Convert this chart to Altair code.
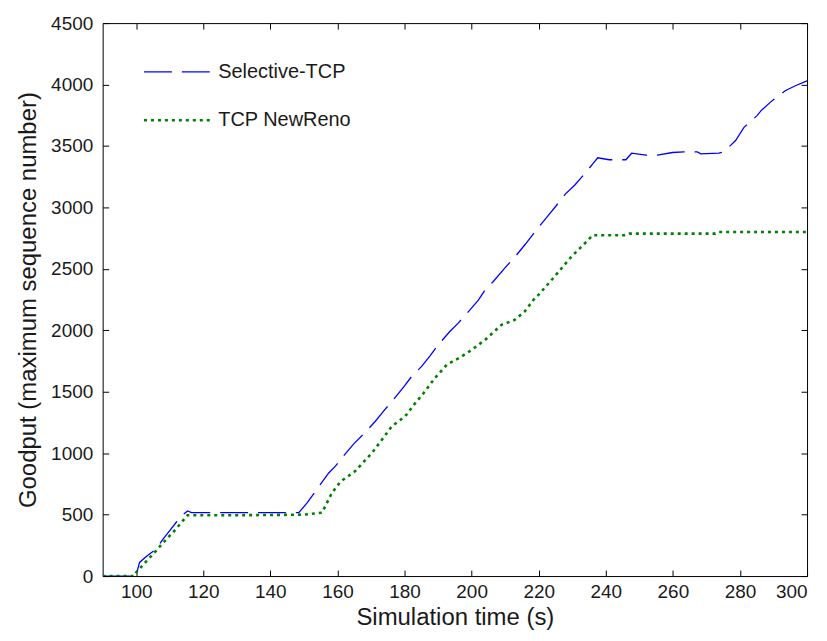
import altair as alt
import pandas as pd

series_names = ["Selective-TCP", "TCP NewReno"]
x_ticks = list(range(100, 301, 20))
y_ticks = list(range(0, 4501, 500))

sel_t = [90, 100, 100.5, 101, 103, 105.9, 108, 110, 112, 114, 115.3, 116.5, 120, 130, 140,
         148.5, 151, 153.5, 156, 157.4, 159.4, 162.4, 165, 168.3, 171.3, 174, 176.7, 179.7,
         182, 185.1, 187.6, 190, 193.5, 196, 199, 202, 204, 206.4, 210, 213, 216, 220, 223,
         225.7, 228, 230.7, 233.7, 236, 237.6, 241, 246, 247.7, 252, 255.4, 259.9, 263.3,
         267.3, 268.3, 273.7, 275.2, 278.7, 281.2, 285.1, 286.3, 289.6, 293.5, 296.5, 300]
sel_g = [0, 0, 60, 111, 160, 219, 300, 370, 440, 500, 530, 516, 516, 516, 516,
         516, 598, 692, 787, 839, 895, 997, 1080, 1170, 1260, 1350, 1436, 1538,
         1620, 1706, 1792, 1880, 1990, 2058, 2150, 2246, 2328, 2395, 2510, 2600, 2700, 2840, 2940,
         3030, 3110, 3180, 3274, 3350, 3404, 3388, 3388, 3441, 3425, 3425, 3447, 3452,
         3452, 3436, 3441, 3452, 3544, 3652, 3747, 3788, 3869, 3950, 3990, 4030]

reno_t = [90, 99.5, 100, 103, 105.9, 108, 110.9, 113, 115.3, 120, 130, 140, 150, 155.4,
          158.4, 161, 165.3, 170.3, 173, 176.2, 180.2, 183, 186.1, 189, 192.6, 197, 200,
          204, 208.9, 212.8, 215.8, 218.8, 220, 224.5, 229.7, 233.7, 236.1, 245.5, 247,
          272.7, 273.7, 300]
reno_g = [0, 0, 30, 120, 205, 270, 354, 420, 495, 495, 495, 497, 500, 516,
          679, 770, 854, 1003, 1100, 1219, 1300, 1400, 1503, 1610, 1719, 1787, 1840,
          1922, 2044, 2084, 2152, 2260, 2290, 2430, 2598, 2706, 2774, 2774, 2787,
          2787, 2800, 2800]

df = pd.concat([
    pd.DataFrame({"t": sel_t, "g": sel_g, "series": series_names[0]}),
    pd.DataFrame({"t": reno_t, "g": reno_g, "series": series_names[1]}),
])

FONT = "Liberation Sans"
TXT = "#1a1a1a"

xs = alt.Scale(domain=[90, 300], nice=False, zero=False)
ys = alt.Scale(domain=[0, 4500], nice=False, zero=False)

leg = alt.Legend(
    title=None, orient="none", legendX=40, legendY=13, symbolType="stroke",
    symbolSize=4900, labelFont=FONT, labelFontSize=20, labelColor=TXT,
    labelOffset=3, rowPadding=2, padding=0,
)

lines = alt.Chart(df).mark_line(clip=True, strokeCap="butt").encode(
    x=alt.X("t:Q", scale=xs, axis=alt.Axis(
        values=x_ticks, title="Simulation time (s)", orient="bottom", offset=-6,
        tickSize=6, domain=False, grid=False, labelPadding=7, titlePadding=4,
        format="d")),
    y=alt.Y("g:Q", scale=ys, axis=alt.Axis(
        values=y_ticks, title="Goodput (maximum sequence number)", orient="left",
        offset=-6, tickSize=6, domain=False, grid=False, labelPadding=10,
        titlePadding=10, format="d")),
    color=alt.Color("series:N", scale=alt.Scale(domain=series_names,
                                                range=["#0000ff", "#008000"]), legend=leg),
    strokeDash=alt.StrokeDash("series:N", scale=alt.Scale(domain=series_names,
                                                          range=[[28, 10], [3, 4]]), legend=leg),
    strokeWidth=alt.StrokeWidth("series:N", scale=alt.Scale(domain=series_names,
                                                            range=[1.3, 2.6]), legend=leg),
)

frame = alt.Chart(df).mark_point(opacity=0).encode(
    x=alt.X("t:Q", scale=xs, axis=alt.Axis(
        values=x_ticks, title=None, orient="top", offset=-6, tickSize=6,
        domain=False, grid=False, labels=False)),
    y=alt.Y("g:Q", scale=ys, axis=alt.Axis(
        values=y_ticks, title=None, orient="right", offset=-6, tickSize=6,
        domain=False, grid=False, labels=False)),
)

chart = alt.layer(lines, frame).resolve_scale(
    x="independent", y="independent"
).properties(
    width=707, height=555,
    autosize=alt.AutoSizeParams(type="none"),
    padding={"left": 95, "top": 14, "right": 12, "bottom": 56},
    background="white",
).configure_view(
    stroke="#000000", strokeWidth=1,
).configure_axis(
    labelFont=FONT, labelFontSize=19, labelColor=TXT,
    titleFont=FONT, titleFontSize=24, titleFontWeight="normal", titleColor=TXT,
    tickColor="#000000", tickWidth=1,
)

chart.save("out.html", embed_options={"renderer": "svg", "actions": False})
